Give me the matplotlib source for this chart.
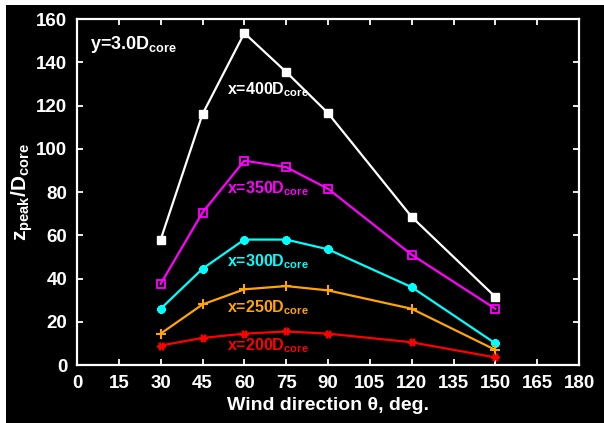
import matplotlib
matplotlib.use("Agg")
import matplotlib.pyplot as plt
from matplotlib.patches import Rectangle

# Wind direction (deg) and peak height z_peak/D_core at y = 3.0 D_core
theta = [30, 45, 60, 75, 90, 120, 150]
z_400 = [58.0, 116.0, 153.5, 135.5, 116.5, 68.5, 31.5]
z_350 = [37.5, 70.5, 94.5, 91.5, 81.5, 51.0, 26.0]
z_300 = [26.0, 44.5, 58.0, 58.0, 53.5, 36.0, 10.0]
z_250 = [14.5, 28.0, 35.0, 36.5, 34.5, 26.0, 7.0]
z_200 = [9.0, 12.5, 14.5, 15.5, 14.5, 10.5, 3.5]

x_ticks = list(range(0, 181, 15))
y_ticks = list(range(0, 161, 20))

plt.rcParams['font.family'] = ['Liberation Sans', 'DejaVu Sans']
plt.rcParams['font.weight'] = 'bold'
plt.rcParams['mathtext.fontset'] = 'custom'
plt.rcParams['mathtext.rm'] = 'Liberation Sans:bold'
plt.rcParams['mathtext.bf'] = 'Liberation Sans:bold'
plt.rcParams['mathtext.it'] = 'Liberation Sans:bold'

fig = plt.figure(figsize=(6.04, 4.23), dpi=100, facecolor='black')
# thin white margin at the top and left of the canvas
fig.patches.append(Rectangle((0, 0), 6 / 604, 1, transform=fig.transFigure,
                             facecolor='white', edgecolor='none', zorder=-10))
fig.patches.append(Rectangle((0, 1 - 5 / 423), 1, 5 / 423, transform=fig.transFigure,
                             facecolor='white', edgecolor='none', zorder=-10))

ax = fig.add_axes([77 / 604, (423 - 365) / 423, 502 / 604, 346 / 423])
ax.set_facecolor('black')

series = [
    (z_400, 'white', dict(marker='s', ms=6, mfc='white', mec='white')),
    (z_350, '#FF00FF', dict(marker='s', ms=6, mfc='none', mec='#FF00FF', mew=1.3)),
    (z_300, '#00FFFF', dict(marker=(8, 2, 0), ms=6, mec='#00FFFF', mew=2)),
    (z_250, '#FFA500', dict(marker='+', ms=7, mec='#FFA500', mew=1.5)),
    (z_200, '#FF0000', dict(marker=(6, 2, 90), ms=6, mec='#FF0000', mew=1.5)),
]
for vals, col, mk in series:
    ax.plot(theta, vals, color=col, lw=1.6, **mk)

ax.set_xlim(0, 180)
ax.set_ylim(0, 160)
ax.set_xticks(x_ticks)
ax.set_yticks(y_ticks)

for s in ax.spines.values():
    s.set_color('white')
    s.set_linewidth(1.6)
ax.tick_params(direction='in', length=4, width=1.3, colors='white',
               top=True, right=True, labelsize=13.5, pad=7)
for lab in ax.get_xticklabels() + ax.get_yticklabels():
    lab.set_fontweight('bold')

ax.set_xlabel('Wind direction θ, deg.', color='white', fontsize=14,
              fontweight='bold', labelpad=4)
ax.set_ylabel(r'z$_{\mathbf{peak}}$/D$_{\mathbf{core}}$', color='white', fontsize=15,
              fontweight='bold', labelpad=1)

ax.text(4.66, 146.1, r'y=3.0D$_{\mathbf{core}}$', color='white', fontsize=13,
        fontweight='bold', ha='left', va='baseline')
labels = [
    (125.3, r'x=400D$_{\mathbf{core}}$', 'white'),
    (79.5, r'x=350D$_{\mathbf{core}}$', '#FF00FF'),
    (45.8, r'x=300D$_{\mathbf{core}}$', '#00FFFF'),
    (24.5, r'x=250D$_{\mathbf{core}}$', '#FFA500'),
    (6.9, r'x=200D$_{\mathbf{core}}$', '#FF0000'),
]
for yv, txt, col in labels:
    ax.text(53.8, yv, txt, color=col, fontsize=11.5, fontweight='bold',
            ha='left', va='baseline')

fig.savefig('out.png', dpi=100, facecolor=fig.get_facecolor())
